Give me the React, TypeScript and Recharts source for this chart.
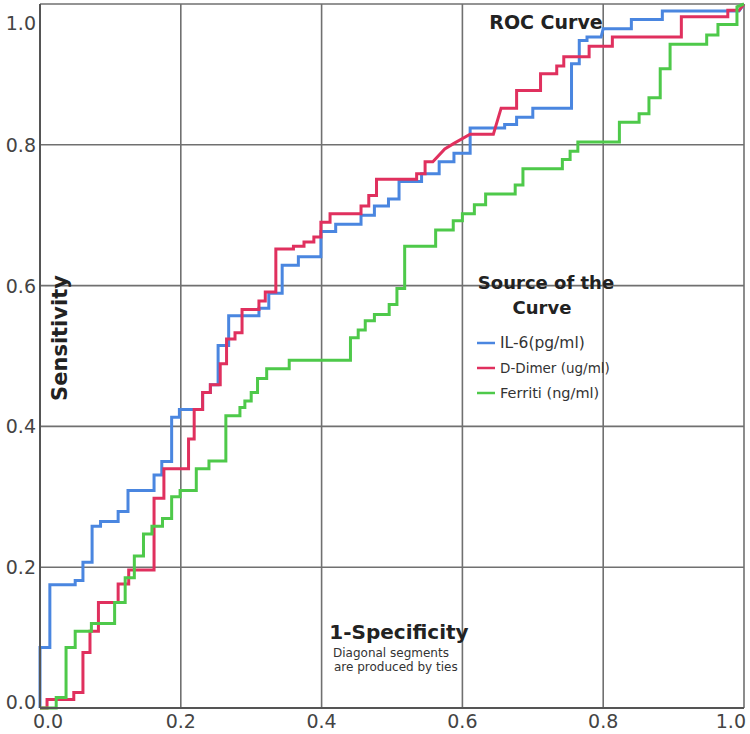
import React from 'react';
import { LineChart, Line, XAxis, YAxis, CartesianGrid } from 'recharts';

// ROC step curves, [1 - specificity, sensitivity] corners
const il6Points: [number, number][] = [
  [0, 0], [0, 0.086], [0.014, 0.086], [0.014, 0.175], [0.05, 0.175], [0.05, 0.181],
  [0.061, 0.181], [0.061, 0.207], [0.074, 0.207], [0.074, 0.258], [0.086, 0.258], [0.086, 0.265],
  [0.111, 0.265], [0.111, 0.279], [0.125, 0.279], [0.125, 0.309], [0.162, 0.309], [0.162, 0.331],
  [0.173, 0.331], [0.173, 0.35], [0.187, 0.35], [0.187, 0.413], [0.198, 0.413], [0.198, 0.424],
  [0.231, 0.424], [0.231, 0.448], [0.242, 0.448], [0.242, 0.459], [0.253, 0.459], [0.253, 0.515],
  [0.268, 0.515], [0.268, 0.557], [0.311, 0.557], [0.311, 0.568], [0.325, 0.568], [0.325, 0.589],
  [0.344, 0.589], [0.344, 0.629], [0.367, 0.629], [0.367, 0.641], [0.399, 0.641], [0.399, 0.677],
  [0.42, 0.677], [0.42, 0.687], [0.456, 0.687], [0.456, 0.7], [0.475, 0.7], [0.475, 0.713],
  [0.495, 0.713], [0.495, 0.723], [0.51, 0.723], [0.51, 0.748], [0.542, 0.748], [0.542, 0.759],
  [0.567, 0.759], [0.567, 0.776], [0.588, 0.776], [0.588, 0.788], [0.611, 0.788], [0.611, 0.824],
  [0.66, 0.824], [0.66, 0.829], [0.677, 0.829], [0.677, 0.839], [0.7, 0.839], [0.7, 0.852],
  [0.755, 0.852], [0.755, 0.915], [0.766, 0.915], [0.766, 0.948], [0.777, 0.948], [0.777, 0.953],
  [0.797, 0.953], [0.8, 0.965], [0.84, 0.965], [0.84, 0.978], [0.884, 0.978], [0.884, 0.99],
  [0.993, 0.99], [1, 1],
];

const dDimerPoints: [number, number][] = [
  [0, 0], [0.01, 0], [0.01, 0.012], [0.048, 0.012], [0.048, 0.022], [0.061, 0.022],
  [0.061, 0.079], [0.071, 0.079], [0.071, 0.109], [0.083, 0.109], [0.083, 0.15], [0.111, 0.15],
  [0.111, 0.176], [0.126, 0.176], [0.126, 0.196], [0.162, 0.196], [0.162, 0.298], [0.176, 0.298],
  [0.176, 0.34], [0.211, 0.34], [0.211, 0.382], [0.219, 0.382], [0.219, 0.424], [0.231, 0.424],
  [0.231, 0.448], [0.242, 0.448], [0.242, 0.459], [0.256, 0.459], [0.256, 0.489], [0.265, 0.489],
  [0.265, 0.524], [0.277, 0.524], [0.277, 0.533], [0.287, 0.533], [0.287, 0.566], [0.311, 0.566],
  [0.311, 0.578], [0.32, 0.578], [0.32, 0.591], [0.335, 0.591], [0.335, 0.652], [0.36, 0.652],
  [0.36, 0.656], [0.375, 0.656], [0.375, 0.662], [0.389, 0.662], [0.389, 0.669], [0.399, 0.669],
  [0.399, 0.69], [0.412, 0.69], [0.412, 0.702], [0.456, 0.702], [0.456, 0.713], [0.467, 0.713],
  [0.467, 0.728], [0.478, 0.728], [0.478, 0.751], [0.535, 0.751], [0.535, 0.759], [0.547, 0.759],
  [0.547, 0.776], [0.558, 0.776], [0.575, 0.794], [0.588, 0.802], [0.611, 0.815], [0.644, 0.815],
  [0.655, 0.852], [0.677, 0.852], [0.677, 0.877], [0.711, 0.877], [0.711, 0.901], [0.734, 0.901],
  [0.734, 0.912], [0.744, 0.912], [0.744, 0.925], [0.78, 0.925], [0.78, 0.94], [0.813, 0.94],
  [0.813, 0.953], [0.911, 0.953], [0.911, 0.982], [0.977, 0.982], [0.977, 0.991], [0.993, 0.991],
  [1, 1],
];

const ferritinPoints: [number, number][] = [
  [0, 0], [0.023, 0], [0.023, 0.015], [0.037, 0.015], [0.037, 0.086], [0.05, 0.086],
  [0.05, 0.109], [0.073, 0.109], [0.073, 0.12], [0.106, 0.12], [0.106, 0.15], [0.121, 0.15],
  [0.121, 0.185], [0.134, 0.185], [0.134, 0.216], [0.147, 0.216], [0.147, 0.247], [0.159, 0.247],
  [0.159, 0.258], [0.174, 0.258], [0.174, 0.269], [0.187, 0.269], [0.187, 0.3], [0.199, 0.3],
  [0.199, 0.309], [0.222, 0.309], [0.222, 0.34], [0.24, 0.34], [0.24, 0.351], [0.264, 0.351],
  [0.264, 0.415], [0.284, 0.415], [0.284, 0.427], [0.291, 0.427], [0.291, 0.436], [0.3, 0.436],
  [0.3, 0.448], [0.309, 0.448], [0.309, 0.468], [0.322, 0.468], [0.322, 0.482], [0.354, 0.482],
  [0.354, 0.494], [0.441, 0.494], [0.441, 0.526], [0.452, 0.526], [0.452, 0.537], [0.462, 0.537],
  [0.462, 0.55], [0.475, 0.55], [0.475, 0.559], [0.496, 0.559], [0.496, 0.573], [0.507, 0.573],
  [0.507, 0.596], [0.518, 0.596], [0.518, 0.656], [0.562, 0.656], [0.562, 0.679], [0.587, 0.679],
  [0.587, 0.692], [0.6, 0.692], [0.6, 0.702], [0.617, 0.702], [0.617, 0.715], [0.633, 0.715],
  [0.633, 0.73], [0.675, 0.73], [0.675, 0.743], [0.686, 0.743], [0.686, 0.766], [0.742, 0.766],
  [0.742, 0.779], [0.753, 0.779], [0.753, 0.791], [0.764, 0.791], [0.764, 0.804], [0.823, 0.804],
  [0.823, 0.832], [0.851, 0.832], [0.851, 0.844], [0.865, 0.844], [0.865, 0.867], [0.881, 0.867],
  [0.881, 0.908], [0.895, 0.908], [0.895, 0.943], [0.947, 0.943], [0.947, 0.956], [0.963, 0.956],
  [0.963, 0.971], [0.99, 0.971], [0.99, 0.996], [1, 1],
];

const axisTicks = [0, 0.2, 0.4, 0.6, 0.8, 1];
const seriesNames = ['IL-6(pg/ml)', 'D-Dimer (ug/ml)', 'Ferriti (ng/ml)'];
const seriesColors = ['#4a86e0', '#e0305e', '#4ec94a'];
const legendFontSizes = [15.5, 13.5, 14.5];

const toRows = (pts: [number, number][]) => pts.map(([x, y]) => ({ x, y }));

const tickFont = { fontFamily: 'DejaVu Sans', fontSize: 19, fill: '#444' };

const YTick = ({ y, payload }: any) => {
  let yy = y + 7;
  if (payload.value === 1) yy = y + 21;
  if (payload.value === 0) yy = y + 1;
  return (
    <text x={36} y={yy} textAnchor="end" {...tickFont}>
      {payload.value.toFixed(1)}
    </text>
  );
};

const XTick = ({ x, payload }: any) => {
  let xx = x;
  let anchor = 'middle';
  if (payload.value === 0) xx = x + 8;
  if (payload.value === 1) {
    xx = x + 2;
    anchor = 'end';
  }
  return (
    <text x={xx} y={728} textAnchor={anchor} {...tickFont}>
      {payload.value.toFixed(1)}
    </text>
  );
};

export default function App() {
  const seriesData = [toRows(il6Points), toRows(dDimerPoints), toRows(ferritinPoints)];

  return (
    <div style={{ position: 'absolute', left: 0, top: 0, width: 750, height: 734, background: '#fff' }}>
      <LineChart width={750} height={734} margin={{ top: 4, right: 6, bottom: 0, left: 0 }}>
        <CartesianGrid stroke="#707070" strokeWidth={1.6} />
        <XAxis
          type="number"
          dataKey="x"
          domain={[0, 1]}
          ticks={axisTicks}
          height={26}
          tickLine={false}
          axisLine={{ stroke: '#555', strokeWidth: 2 }}
          tick={<XTick />}
          allowDuplicatedCategory={false}
        />
        <YAxis
          type="number"
          dataKey="y"
          domain={[0, 1]}
          ticks={axisTicks}
          width={40}
          tickLine={false}
          axisLine={{ stroke: '#555', strokeWidth: 2 }}
          tick={<YTick />}
        />
        {seriesData.map((rows, i) => (
          <Line
            key={seriesNames[i]}
            data={rows}
            dataKey="y"
            name={seriesNames[i]}
            type="linear"
            stroke={seriesColors[i]}
            strokeWidth={3}
            dot={false}
            activeDot={false}
            isAnimationActive={false}
          />
        ))}
      </LineChart>
      <svg width={750} height={734} style={{ position: 'absolute', left: 0, top: 0, pointerEvents: 'none' }}>
        <g fontFamily="DejaVu Sans" fill="#222">
          <text x={546} y={29} textAnchor="middle" fontSize={19} fontWeight="bold">ROC Curve</text>
          <text
            x={60}
            y={338}
            textAnchor="middle"
            dominantBaseline="central"
            fontSize={21}
            fontWeight="bold"
            transform="rotate(-90 60 338)"
          >
            Sensitivity
          </text>
          <text x={399} y={639} textAnchor="middle" fontSize={20} fontWeight="bold">1-Specificity</text>
          <text x={333} y={657} fontSize={12} fill="#333">Diagonal segments</text>
          <text x={334} y={671} fontSize={12} fill="#333">are produced by ties</text>

          <text x={546} y={289} textAnchor="middle" fontSize={18} fontWeight="bold">Source of the</text>
          <text x={542} y={314} textAnchor="middle" fontSize={18} fontWeight="bold">Curve</text>
          {seriesNames.map((name, i) => {
            const cy = 343 + i * 25;
            return (
              <g key={name}>
                <line x1={477} y1={cy} x2={495} y2={cy} stroke={seriesColors[i]} strokeWidth={2.5} />
                <text x={500} y={cy + 5} fontSize={legendFontSizes[i]} fill="#333">{name}</text>
              </g>
            );
          })}
        </g>
      </svg>
    </div>
  );
}
